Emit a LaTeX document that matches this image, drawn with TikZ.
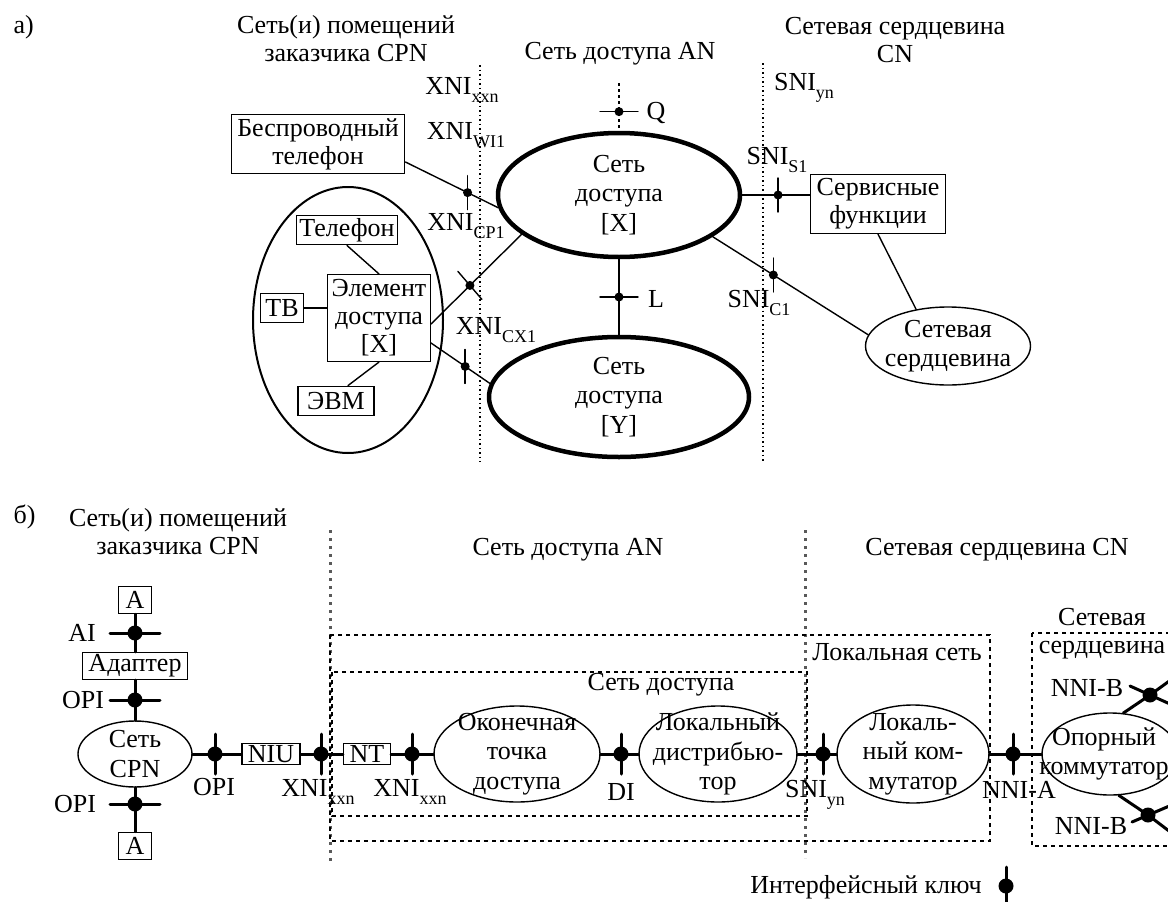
\documentclass[tikz,border=0pt]{standalone}
\usepackage{fontspec}
\setmainfont{Liberation Serif}
\usepackage{tikz}
\usetikzlibrary{shapes.geometric}
\newcommand{\lowsub}[1]{\raisebox{-8pt}{\fontsize{18}{18}\selectfont #1}}

\begin{document}
\begin{tikzpicture}[x=1pt,y=-1pt,cap=round,
  font=\fontsize{26}{28}\selectfont,
  box/.style={draw,line width=1.4pt,inner xsep=6pt,inner ysep=3pt,align=center},
  net/.style={draw,ellipse,line width=1.4pt,inner sep=0pt},
  bignet/.style={net,line width=4.5pt},
  txt/.style={align=center,inner sep=0pt,font=\fontsize{26}{29.5}\selectfont},
  dot/.style={circle,fill,inner sep=0pt,minimum size=9pt},
  bigdot/.style={circle,fill,inner sep=0pt,minimum size=15pt},
  lnk/.style={line width=1.4pt},
  blnk/.style={line width=3pt},
  sepa/.style={line width=1.2pt,dash pattern=on 1.5pt off 3pt,cap=butt},
  sepb/.style={line width=3pt,gray!70!black,dash pattern=on 3pt off 5pt,cap=butt},
  frame/.style={line width=1.5pt,dash pattern=on 4pt off 4pt,cap=butt}]
\useasboundingbox (0,0) rectangle (1168,902);
\clip (0,0) rectangle (1168,902);

% a)
\node[anchor=west] (capa) at (10,27) {а)};
\node[align=center] (tcpn) at (346,39) {Сеть(и) помещений\\заказчика CPN};
\node (tan) at (620,54) {Сеть доступа AN};
\node[align=center] (tcn) at (895,40) {Сетевая сердцевина\\CN};
\draw[sepa] (480,65) -- (480,462);
\draw[sepa] (763,63) -- (763,462);
\node (lxxn) at (462,90) {XNI\lowsub{xxn}};
\node (lyn) at (804,88) {SNI\lowsub{yn}};

\node[bignet,minimum width=242pt,minimum height=124pt] (xnet) at (619,195) {};
\node[txt] at (xnet) {Сеть\\доступа\\{[X]}};
\node[bignet,minimum width=260pt,minimum height=120pt] (ynet) at (619,397) {};
\node[txt] at (ynet) {Сеть\\доступа\\{[Y]}};

\node[box,inner ysep=4pt] (cordless) at (318,144) {Беспроводный\\телефон};
\node[net,line width=2pt,minimum width=190pt,minimum height=266pt] (cpna) at (348,320) {};
\node[box,inner xsep=3pt,inner ysep=3pt] (phone) at (347,230) {Телефон};
\node[box,inner xsep=4pt,inner ysep=5pt] (elem) at (379,318) {Элемент\\доступа\\{[X]}};
\node[box,inner xsep=5pt,inner ysep=6pt] (tv) at (282,308) {ТВ};
\node[box,inner xsep=9pt,inner ysep=6pt] (pc) at (336,401) {ЭВМ};
\node[box,inner ysep=4pt] (svc) at (878,204) {Сервисные\\функции};
\node[net,minimum width=165pt,minimum height=78pt] (core) at (948,346) {};
\node[txt] at (core) {Сетевая\\сердцевина};

\draw[lnk] (phone.south) -- (elem.north);
\draw[lnk] (tv.east) -- (tv.east -| elem.west);
\draw[lnk] ([xshift=12pt]pc.north) -- (elem.south);
\draw[lnk] (svc.south) -- (core.131);

%keys
\coordinate (qtop) at (619,83);
\draw[line width=2pt,dash pattern=on 3pt off 3pt,cap=butt] (qtop) -- (xnet.north) node[dot,pos=0.6] (kq) {};
\draw[lnk] (kq.center) ++(-19,0) -- ++(38,0);
\node (lq) at (656,113) {Q};

\draw[lnk] ([yshift=-18pt]cordless.east) -- (xnet.186) node[dot,pos=0.67] (kwi) {};
\draw[lnk] (kwi.center) ++(0,-17) -- ++(0,34);
\node (lwi) at (466,135) {XNI\lowsub{WI1}};

\draw[lnk] ([yshift=-6pt]elem.east) -- (xnet.202) node[dot,pos=0.43] (kcp) {};
\draw[lnk] (kcp.center) ++(-12,-14) -- ++(24,28);
\node (lcp) at (466,226) {XNI\lowsub{CP1}};

\draw[lnk] ([yshift=-25pt]elem.east) -- (ynet.174) node[dot,pos=0.58] (kcx) {};
\draw[lnk] (kcx.center) ++(0,-17) -- ++(0,34);
\node (lcx) at (496,330) {XNI\lowsub{CX1}};

\draw[lnk] (xnet.south) -- (ynet.north) node[dot,pos=0.5] (kl) {};
\draw[lnk] (kl.center) ++(-19,0) -- ++(38,0);
\node (ll) at (656,299) {L};

\draw[lnk] (xnet.east) -- (xnet.east -| svc.west) node[dot,pos=0.53] (ks) {};
\draw[lnk] (ks.center) ++(0,-17) -- ++(0,34);
\node (ls) at (777,160) {SNI\lowsub{S1}};

\draw[lnk] (xnet.-24) -- (core.172) node[dot,pos=0.39] (kc) {};
\draw[lnk] (kc.center) ++(0,-17) -- ++(0,34);
\node (lc) at (759,303) {SNI\lowsub{C1}};

% b)
\node[anchor=west] (capb) at (10,517) {б)};
\node[align=center] (bcpn) at (178,532) {Сеть(и) помещений\\заказчика CPN};
\node (ban) at (568,550) {Сеть доступа AN};
\node (bcn) at (997,550) {Сетевая сердцевина CN};
\draw[sepb] (330,530) -- (330,862);
\draw[sepb] (805,530) -- (805,858);
\draw[frame] (330,635) rectangle (990,841);
\draw[frame] (332,672) rectangle (807,816);
\draw[frame] (1032,633) rectangle (1200,846);
\node (tlan) at (897,652) {Локальная сеть};
\node (tacc) at (661,685) {Сеть доступа};
\node[align=center] (tcore) at (1102,634) {Сетевая\\сердцевина};

\node[net,minimum width=114pt,minimum height=66pt] (cpn) at (135,754) {};
\node[txt] at (cpn) {Сеть\\CPN};
\node[box,inner xsep=7pt,inner ysep=5pt] (a1) at (135,600) {A};
\node[box,inner xsep=6pt,inner ysep=2pt] (adapter) at (135,666) {Адаптер};
\node[box,inner xsep=7pt,inner ysep=5pt] (a2) at (135,846) {A};
\node[box,inner xsep=6pt,inner ysep=2pt] (niu) at (271,754) {NIU};
\node[box,inner xsep=6pt,inner ysep=2pt] (nt) at (367,754) {NT};
\node[net,minimum width=166pt,minimum height=96pt] (ont) at (517,754) {};
\node[txt] at (ont) {Оконечная\\точка\\доступа};
\node[net,minimum width=158pt,minimum height=96pt] (ldist) at (718,754) {};
\node[txt] at (ldist) {Локальный\\дистрибью-\\тор};
\node[net,minimum width=152pt,minimum height=98pt] (lsw) at (913,754) {};
\node[txt] at (lsw) {Локаль-\\ный ком-\\мутатор};
\node[net,minimum width=136pt,minimum height=82pt] (bsw) at (1110,754) {};
\node[txt] at (1104,754) {Опорный\\коммутатор};

\draw[blnk] (a1) -- (adapter) -- (cpn) -- (a2);
\draw[blnk] (cpn) -- (niu) -- (nt) -- (ont) -- (ldist) -- (lsw) -- (bsw);

%keys
\node[bigdot] (kai) at (135,633) {};
\node[bigdot] (kopa) at (135,700) {};
\node[bigdot] (kopb) at (135,804) {};
\foreach \k in {kai,kopa,kopb}
  \draw[blnk] (\k.center) ++(-25,0) -- ++(50,0);
\node (lai) at (82,633) {AI};
\node (lopa) at (83,700) {OPI};
\node (lopb) at (75,804) {OPI};

\node[bigdot] (kopi) at (215,754) {};
\node[bigdot] (kxa) at (321,754) {};
\node[bigdot] (kxb) at (412,754) {};
\node[bigdot] (kdi) at (621,754) {};
\node[bigdot] (ksni) at (823,754) {};
\node[bigdot] (knni) at (1013,754) {};
\foreach \k in {kopi,kxa,kxb,kdi,ksni,knni}
  \draw[blnk] (\k.center) ++(0,-20) -- ++(0,40);
\node (lopi) at (214,787) {OPI};
\node (lxa) at (318,792) {XNI\lowsub{xxn}};
\node (lxb) at (410,792) {XNI\lowsub{xxn}};
\node (ldi) at (621,792) {DI};
\node (lsni) at (815,795) {SNI\lowsub{yn}};
\node (lnnia) at (1019,790) {NNI-A};

\node[bigdot] (knba) at (1150,695) {};
\coordinate (nbaend) at (1190,666);
\draw[blnk] (bsw.72) -- (knba.center) -- (nbaend);
\draw[blnk] (knba.center) ++(-20,-9) -- ++(60,27);
\node (lnba) at (1087,688) {NNI-B};
\node[bigdot] (knbb) at (1148,815) {};
\coordinate (nbbend) at (1190,847);
\draw[blnk] (bsw.-78) -- (knbb.center) -- (nbbend);
\draw[blnk] (knbb.center) ++(-16,7) -- ++(56,-24);
\node (lnbb) at (1091,826) {NNI-B};

\node (legend) at (866,887) {Интерфейсный ключ};
\node[bigdot] (kleg) at (1006,886) {};
\draw[blnk] (kleg.center) ++(0,-19) -- ++(0,36);
\end{tikzpicture}
\end{document}
